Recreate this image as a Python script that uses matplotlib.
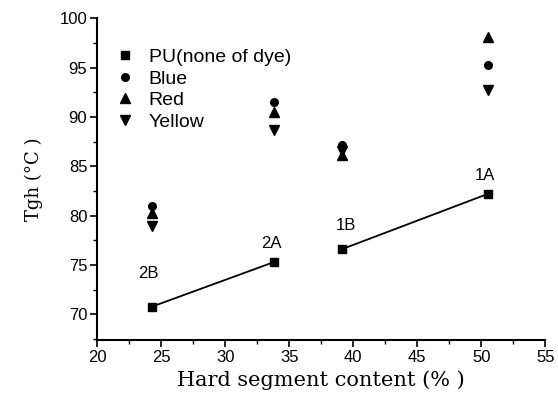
import matplotlib.pyplot as plt
from matplotlib.ticker import MultipleLocator

hard = [24.3, 33.8, 39.1, 50.5]
pu = [70.8, 75.3, 76.6, 82.2]
blue = [81.0, 91.5, 87.2, 95.3]
red = [80.3, 90.5, 86.1, 98.1]
yellow = [79.0, 88.7, 86.6, 92.7]
sample_names = ["2B", "2A", "1B", "1A"]

plt.rcParams['font.family'] = ['Liberation Sans', 'DejaVu Sans']

fig = plt.figure(figsize=(5.58, 3.96), dpi=100)
ax = fig.add_axes([0.174, 0.141, 0.803, 0.813])

ms = 5.5
ax.plot(hard[:2], pu[:2], c="black", lw=1.3)
ax.plot(hard[2:], pu[2:], c="black", lw=1.3)
ax.plot(hard, pu, ls="none", marker="s", ms=ms, c="black", label="PU(none of dye)")
ax.plot(hard, blue, ls="none", marker="o", ms=ms, c="black", label="Blue")
ax.plot(hard, red, ls="none", marker="^", ms=ms + 1, c="black", label="Red")
ax.plot(hard, yellow, ls="none", marker="v", ms=ms + 1, c="black", label="Yellow")

# label positions relative to each PU point
offsets = [(-0.3, 3.4), (-0.2, 1.9), (0.3, 2.4), (-0.2, 1.9)]
for x, y, name, (dx, dy) in zip(hard, pu, sample_names, offsets):
    ax.text(x + dx, y + dy, name, fontsize=12, ha="center", va="center")

ax.set_xlim(20, 55)
ax.set_ylim(67.4, 100)
ax.xaxis.set_major_locator(MultipleLocator(5))
ax.xaxis.set_minor_locator(MultipleLocator(2.5))
ax.yaxis.set_major_locator(MultipleLocator(5))
ax.yaxis.set_minor_locator(MultipleLocator(2.5))
ax.spines['top'].set_visible(False)
ax.spines['right'].set_visible(False)
ax.spines['left'].set_linewidth(1.5)
ax.spines['bottom'].set_linewidth(1.5)
ax.tick_params(which="major", direction="out", length=5, width=1.2, labelsize=12, pad=2)
ax.tick_params(which="minor", direction="out", length=3, width=1.0)

ax.set_xlabel("Hard segment content (% )", family="DejaVu Serif", fontsize=15, labelpad=4)
ax.set_ylabel("Tgh (°C )", family="DejaVu Serif", fontsize=13, labelpad=12)

ax.legend(loc="upper left", bbox_to_anchor=(0.02, 0.93), frameon=False, fontsize=14,
          handlelength=1.2, handletextpad=0.6, labelspacing=0.2, borderaxespad=0)

fig.savefig("out.png", dpi=100)
